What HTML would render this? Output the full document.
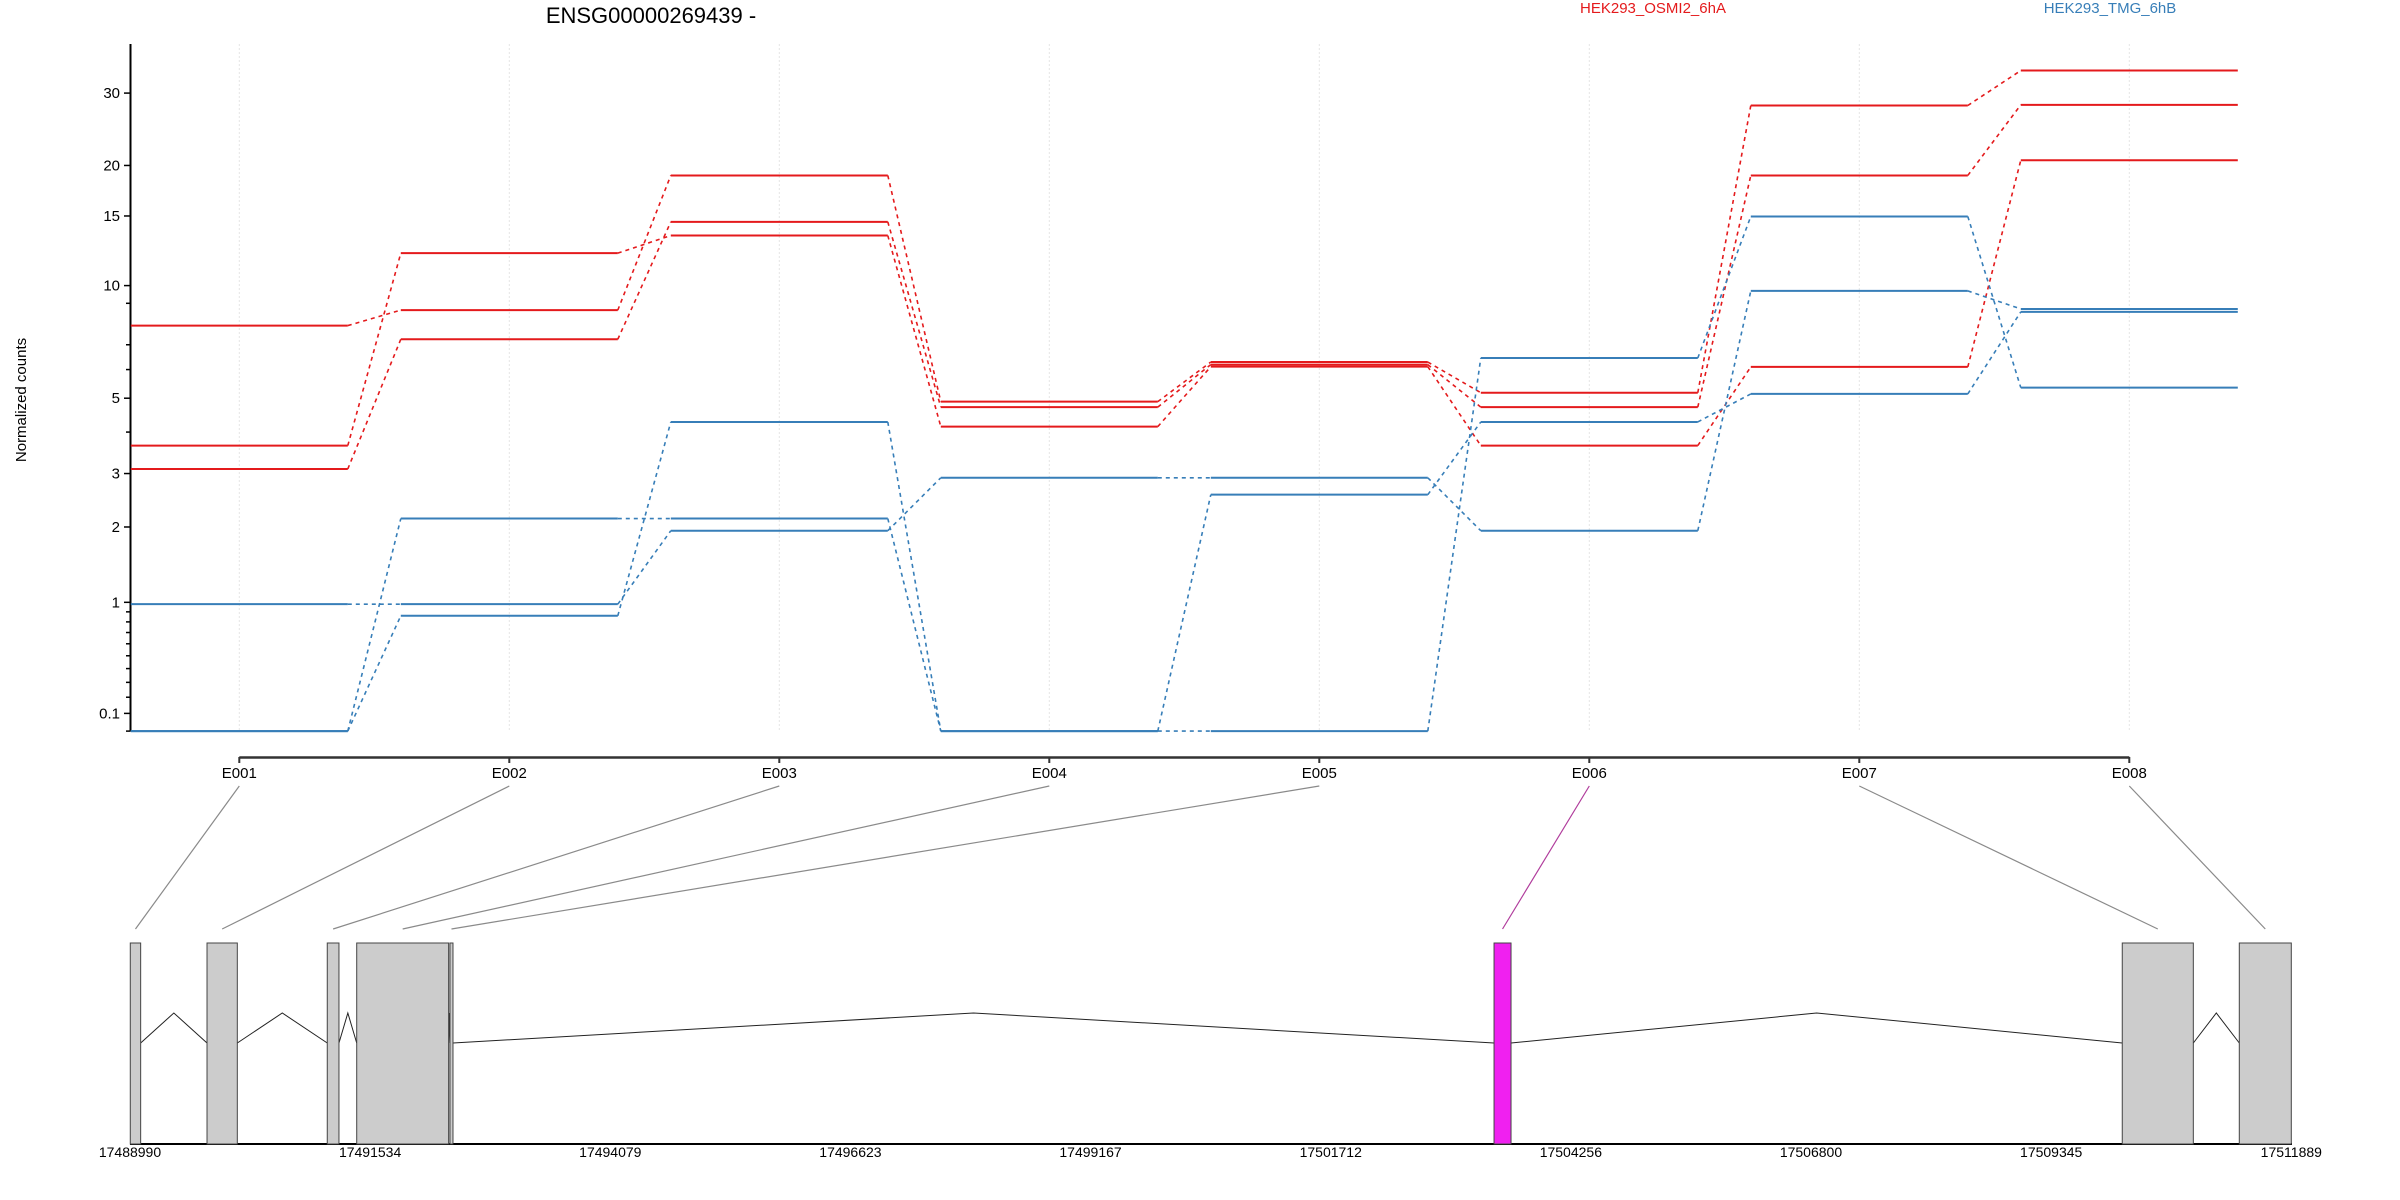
<!DOCTYPE html>
<html><head><meta charset="utf-8"><title>ENSG00000269439</title>
<style>
html,body{margin:0;padding:0;background:#fff;}
svg{display:block;font-family:"Liberation Sans",sans-serif;}
</style></head>
<body>
<svg id="chart" width="2400" height="1200" viewBox="0 0 2400 1200" xmlns="http://www.w3.org/2000/svg">
<text x="651" y="23" font-size="22" text-anchor="middle" fill="#000">ENSG00000269439 -</text>
<text x="1653" y="13" font-size="15" text-anchor="middle" fill="#E41A1C">HEK293_OSMI2_6hA</text>
<text x="2110" y="13" font-size="15" text-anchor="middle" fill="#377EB8">HEK293_TMG_6hB</text>
<text x="0" y="0" font-size="15" text-anchor="middle" transform="translate(26,400) rotate(-90)" fill="#000">Normalized counts</text>
<g id="grid"></g>
<g id="yaxis"></g>
<g id="xaxis"></g>
<g id="series"></g>
<g id="connectors"></g>
<g id="gene"></g>
</svg>
<script>
// ---- data ----
const exonIds = ["E001","E002","E003","E004","E005","E006","E007","E008"];
const sampleA = [7.87, 8.64, 18.9, 4.89, 6.29, 5.18, 28.0, 34.0];
const sampleB = [3.65, 12.1, 13.4, 4.15, 6.11, 3.65, 6.10, 20.6];
const sampleC = [3.10, 7.24, 14.5, 4.72, 6.19, 4.72, 18.9, 28.1];
const sampleD = [0.98, 0.98, 1.94, 2.91, 2.91, 1.94, 9.69, 8.70];
const sampleE = [0, 2.14, 2.14, 0, 2.57, 4.28, 5.14, 8.55];
const sampleF = [0, 0.86, 4.28, 0, 0, 6.45, 14.96, 5.35];
const sampleGroups = ["OSMI2","OSMI2","OSMI2","TMG","TMG","TMG"];
const yTickLabels = [0.1, 1, 2, 3, 5, 10, 15, 20, 30];
const yMinorTicks = [0, 0.2, 0.3, 0.4, 0.5, 0.6, 0.7, 0.8, 0.9, 4, 6, 7, 9];
const exonStarts = [17488993, 17489806, 17491080, 17491392, 17492380, 17503442, 17510098, 17511338];
const exonEnds   = [17489103, 17490127, 17491204, 17492366, 17492412, 17503622, 17510851, 17511889];
const highlightedExon = "E006";
const genomicTicks = [17488990, 17491534, 17494079, 17496623, 17499167, 17501712, 17504256, 17506800, 17509345, 17511889];

// ---- scales ----
const NS = "http://www.w3.org/2000/svg";
const Y0 = 731.1, YK = 427.8;
function yScale(v){ return Y0 - YK*Math.log10(v+1); }
const X0 = 239.3, XSTEP = 270;
function xScale(i){ return X0 + i*XSTEP; }
const HALF = 108.5;
const G0 = 17488990, GK = 0.094384;
function gScale(g){ return 130 + (g-G0)*GK; }
const colors = {OSMI2:"#E41A1C", TMG:"#377EB8"};
function mk(tag, attrs, parent){ const e=document.createElementNS(NS,tag); for(const k in attrs) e.setAttribute(k,attrs[k]); parent.appendChild(e); return e; }

const grid=document.getElementById('grid'), yax=document.getElementById('yaxis'), xax=document.getElementById('xaxis');
const ser=document.getElementById('series'), con=document.getElementById('connectors'), gene=document.getElementById('gene');

// grid
exonIds.forEach((id,i)=>{
  const l=mk('line',{x1:xScale(i),x2:xScale(i),y1:44,y2:732,stroke:"#e4e4e4","stroke-width":1,"stroke-dasharray":"2,2"},grid);
  
  
});

// y axis
const yl=mk('line',{x1:130.5,x2:130.5,y1:44,y2:yScale(0),stroke:"#000","stroke-width":2},yax);


yTickLabels.forEach(v=>{
  const y=yScale(v);
  const t=mk('line',{x1:124,x2:130.5,y1:y,y2:y,stroke:"#000","stroke-width":1.5},yax);
  
  
  const tx=mk('text',{x:120,y:y+5,"font-size":15,"text-anchor":"end",fill:"#000"},yax);
  tx.textContent=String(v);
  
  
});
yMinorTicks.forEach(v=>{
  const y=yScale(v);
  const t=mk('line',{x1:126,x2:130.5,y1:y,y2:y,stroke:"#000","stroke-width":1.5},yax);
  
  
});

// x axis
const xl=mk('line',{x1:xScale(0),x2:xScale(exonIds.length-1),y1:757.5,y2:757.5,stroke:"#333","stroke-width":2.5},xax);


exonIds.forEach((id,i)=>{
  const t=mk('line',{x1:xScale(i),x2:xScale(i),y1:757,y2:763,stroke:"#333","stroke-width":2},xax);
  
  
  const tx=mk('text',{x:xScale(i),y:778,"font-size":15,"text-anchor":"middle",fill:"#000"},xax);
  tx.textContent=id;
  
  
});

// series
const samples=[sampleA,sampleB,sampleC,sampleD,sampleE,sampleF];
samples.forEach((s,si)=>{
  const col=colors[sampleGroups[si]];
  s.forEach((v,i)=>{
    const y=yScale(v);
    const seg=mk('line',{x1:xScale(i)-HALF,x2:xScale(i)+HALF,y1:y,y2:y,stroke:col,"stroke-width":2},ser);
    
    
    if(i<s.length-1){
      const d=mk('line',{x1:xScale(i)+HALF,x2:xScale(i+1)-HALF,y1:y,y2:yScale(s[i+1]),stroke:col,"stroke-width":1.6,"stroke-dasharray":"4,4"},ser);
      
      
    }
  });
});

// gene model
const base=mk('line',{x1:130,x2:2292,y1:1144,y2:1144,stroke:"#000","stroke-width":2},gene);


for(let i=0;i<exonStarts.length-1;i++){
  const a=gScale(exonEnds[i]), b=gScale(exonStarts[i+1]);
  const p=mk('polyline',{points:a+",1043 "+((a+b)/2)+",1013 "+b+",1043",fill:"none",stroke:"#222","stroke-width":1},gene);
  
  
}
exonIds.forEach((id,i)=>{
  const a=gScale(exonStarts[i]), b=gScale(exonEnds[i]);
  const hl = id===highlightedExon;
  const r=mk('rect',{x:a,y:943,width:Math.max(b-a,1.5),height:201,fill:hl?"#F020F0":"#cccccc",stroke:"#444","stroke-width":1},gene);
  
  
  const c=mk('line',{x1:xScale(i),y1:786,x2:(a+b)/2,y2:929,stroke:hl?"#B03C9C":"#8a8a8a","stroke-width":1.2},con);
  
  
});
genomicTicks.forEach(g=>{
  const tx=mk('text',{x:gScale(g),y:1157,"font-size":14,"text-anchor":"middle",fill:"#000"},gene);
  tx.textContent=String(g);
  
  
});
</script>
</body></html>
